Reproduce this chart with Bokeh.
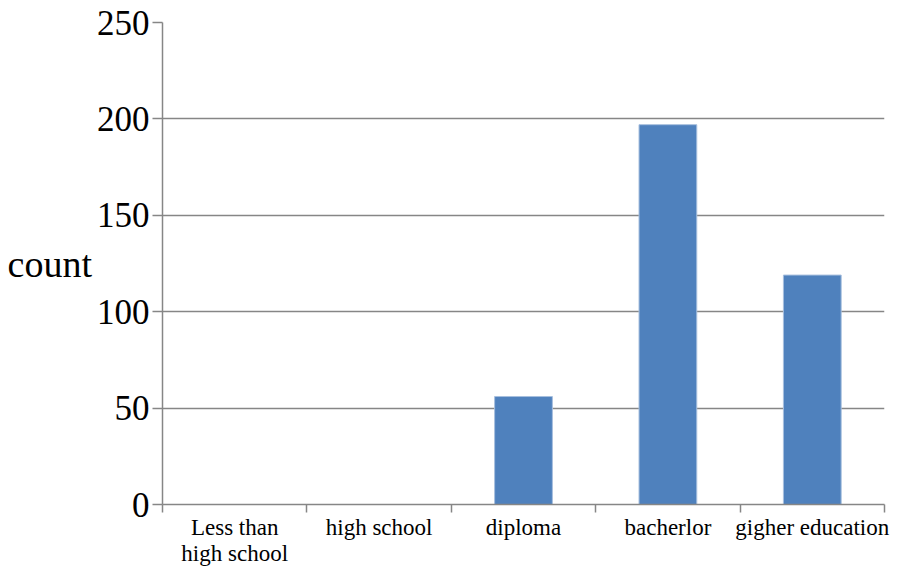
from bokeh.plotting import figure
from bokeh.models import Range1d, FixedTicker
from bokeh.embed import file_html
from bokeh.resources import INLINE

categories = ["Less than\nhigh school", "high school", "diploma", "bacherlor", "gigher education"]
counts = [0, 0, 56, 197, 119]
y_ticks = [0, 50, 100, 150, 200, 250]
y_title = "count"

n = len(categories)
xpos = [i + 0.5 for i in range(n)]
GRAY = "#868686"
FONT = "Liberation Serif"

p = figure(frame_width=722, frame_height=482, x_range=Range1d(0, n), y_range=Range1d(0, 250),
           min_border_left=162, min_border_right=33, min_border_top=22, min_border_bottom=0,
           output_backend="svg", toolbar_location=None)
p.outline_line_color = None
p.background_fill_color = "white"
p.border_fill_color = "white"

p.vbar(x=xpos, top=counts, width=0.4, fill_color="#4F81BD", line_color="#A7BFDE", line_width=1)

# y axis
yax = p.yaxis[0]
yax.ticker = FixedTicker(ticks=y_ticks)
yax.major_tick_out = 10
yax.major_tick_in = 0
yax.minor_tick_line_color = None
yax.axis_line_color = GRAY
yax.axis_line_width = 1.5
yax.major_tick_line_color = GRAY
yax.major_tick_line_width = 1.5
yax.major_label_text_font = FONT
yax.major_label_text_font_size = "35px"
yax.major_label_text_color = "black"
yax.major_label_standoff = 3
yax.axis_label = y_title
yax.axis_label_text_font = FONT
yax.axis_label_text_font_size = "38px"
yax.axis_label_text_font_style = "normal"
yax.axis_label_text_color = "black"
yax.axis_label_standoff = 2
if "axis_label_orientation" in yax.properties():
    yax.axis_label_orientation = "horizontal"

# x axis: labels at category centres (major), ticks at boundaries (minor)
xax = p.xaxis[0]
xax.ticker = FixedTicker(ticks=xpos, minor_ticks=list(range(n + 1)))
xax.major_label_overrides = {x: c for x, c in zip(xpos, categories)}
xax.major_tick_line_color = None
xax.major_tick_out = 0
xax.major_tick_in = 0
xax.minor_tick_out = 8
xax.minor_tick_in = 0
xax.minor_tick_line_color = GRAY
xax.minor_tick_line_width = 1.5
xax.axis_line_color = GRAY
xax.axis_line_width = 1.5
xax.major_label_text_font = FONT
xax.major_label_text_font_size = "23px"
xax.major_label_text_color = "black"
xax.major_label_text_line_height = 1.05
xax.major_label_standoff = 2

p.xgrid.grid_line_color = None
p.ygrid.grid_line_color = GRAY
p.ygrid.grid_line_width = 1.5

open("out.html", "w").write(file_html(p, INLINE))
